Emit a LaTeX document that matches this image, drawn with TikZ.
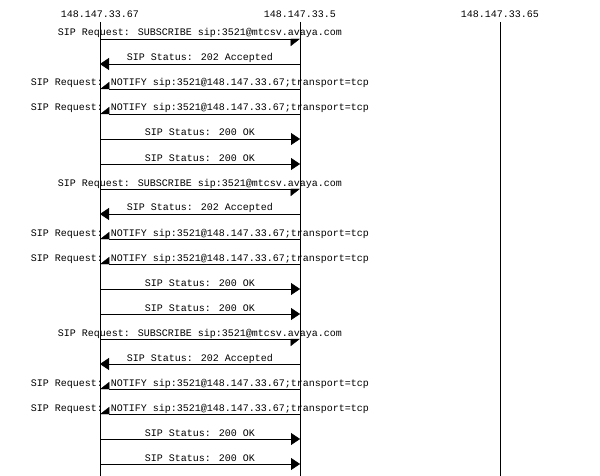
\documentclass[tikz,border=0pt]{standalone}
\usepackage{fontspec}
\setmainfont{Liberation Mono}
\usetikzlibrary{arrows.meta}
\tikzset{
  msg/.style={font=\fontsize{10}{12}\selectfont, inner sep=0pt, anchor=base},
  req/.style={-{Triangle[harpoon,swap,length=9pt,width=14pt]}},
  stat/.style={-{Triangle[length=9pt,width=12pt]}}
}
\begin{document}
\begin{tikzpicture}[x=1pt,y=-1pt]
\useasboundingbox (0,0) rectangle (600,476);
% hosts
\node[msg] (ha) at (100,18) {148.147.33.67};
\node[msg] (hb) at (300,18) {148.147.33.5};
\node[msg] (hc) at (500,18) {148.147.33.65};
\coordinate (ea) at (100,476);
\coordinate (eb) at (300,476);
\coordinate (ec) at (500,476);
\draw (100,22) -- (ea);
\draw (300,22) -- (eb);
\draw (500,22) -- (ec);
% one SUBSCRIBE / NOTIFY exchange per block
\foreach \b in {0,1,2}{
  \pgfmathsetmacro{\y}{39+150*\b}
  \coordinate (a1\b) at (100,\y);     \coordinate (b1\b) at (300,\y);
  \coordinate (a2\b) at (100,\y+25);  \coordinate (b2\b) at (300,\y+25);
  \coordinate (a3\b) at (100,\y+50);  \coordinate (b3\b) at (300,\y+50);
  \coordinate (a4\b) at (100,\y+75);  \coordinate (b4\b) at (300,\y+75);
  \coordinate (a5\b) at (100,\y+100); \coordinate (b5\b) at (300,\y+100);
  \coordinate (a6\b) at (100,\y+125); \coordinate (b6\b) at (300,\y+125);
  \node[msg] at (200,\y-3) {SIP Request: SUBSCRIBE sip:3521@mtcsv.avaya.com};
  \draw[req] (a1\b) -- (b1\b);
  \node[msg] at (200,\y+22) {SIP Status: 202 Accepted};
  \draw[stat] (b2\b) -- (a2\b);
  \node[msg] at (200,\y+47) {SIP Request: NOTIFY sip:3521@148.147.33.67;transport=tcp};
  \draw[req] (b3\b) -- (a3\b);
  \node[msg] at (200,\y+72) {SIP Request: NOTIFY sip:3521@148.147.33.67;transport=tcp};
  \draw[req] (b4\b) -- (a4\b);
  \node[msg] at (200,\y+97) {SIP Status: 200 OK};
  \draw[stat] (a5\b) -- (b5\b);
  \node[msg] at (200,\y+122) {SIP Status: 200 OK};
  \draw[stat] (a6\b) -- (b6\b);
}
\end{tikzpicture}
\end{document}
